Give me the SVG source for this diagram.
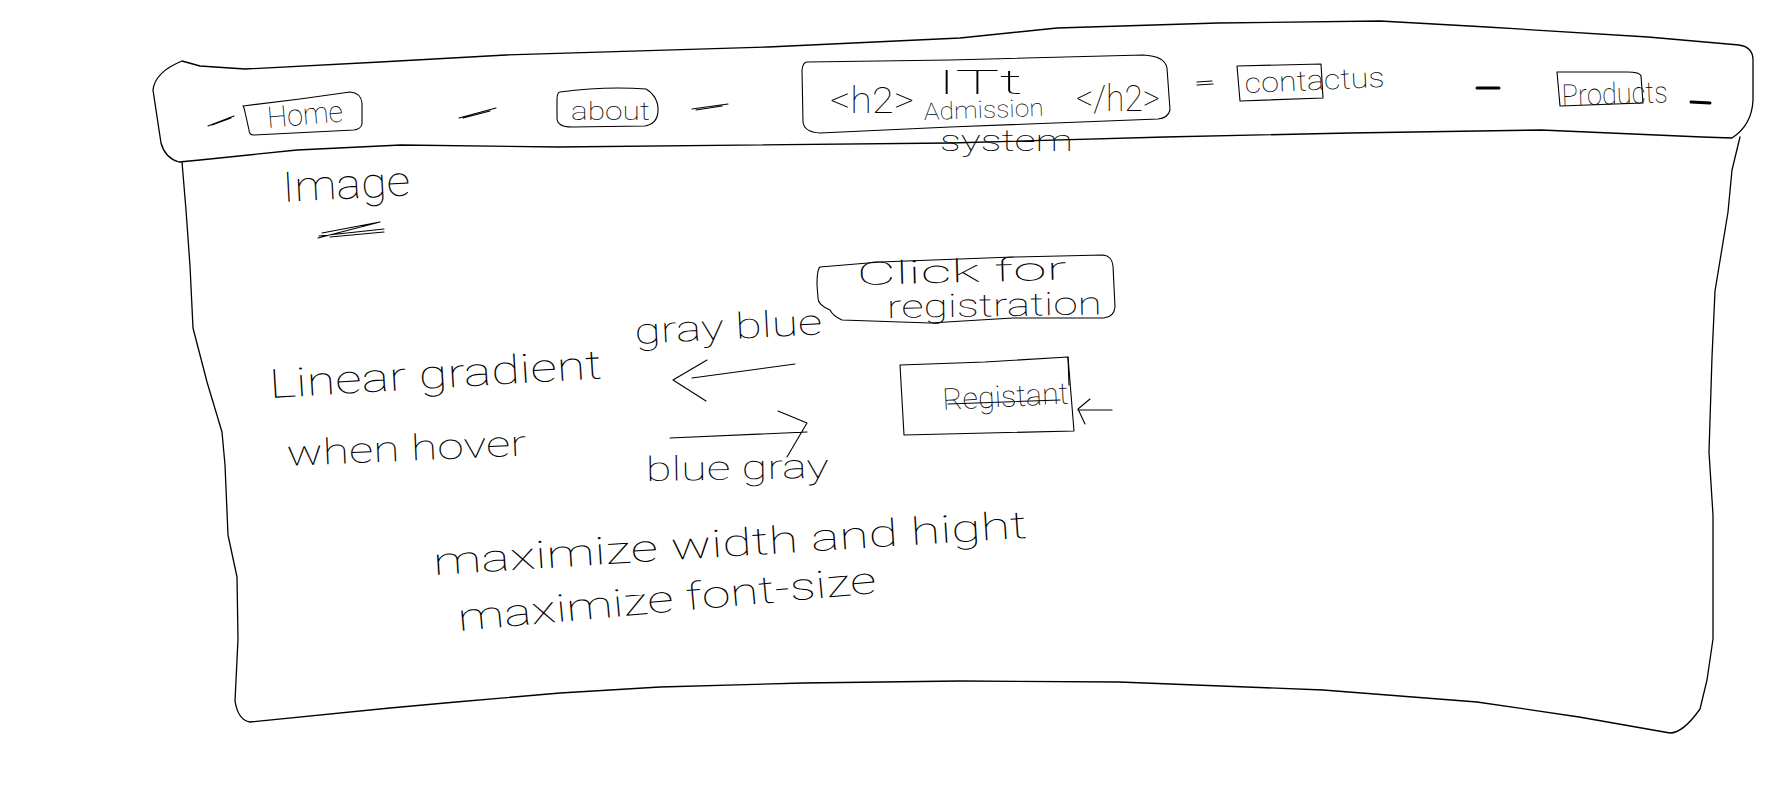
<svg xmlns="http://www.w3.org/2000/svg" width="1792" height="785" viewBox="0 0 1792 785">
  <style>
    .ink{fill:none;stroke:#000;stroke-width:1.3;stroke-linejoin:round;stroke-linecap:round}
    .pen{fill:none;stroke:#000;stroke-width:1.1;stroke-linejoin:round;stroke-linecap:round}
    .bold{fill:none;stroke:#000;stroke-width:3;stroke-linecap:round}
    .hw{font-family:Roboto,"Liberation Sans",sans-serif;font-weight:100;fill:#000}
  </style>
  <rect width="1792" height="785" fill="#fff"/>

  <!-- navigation bar -->
  <g id="nav-bar">
    <path class="ink" d="M182,61 L200,66 L245,69 L380,62 L506,55 L768,47 L960,38 L1057,28 L1218,23 L1380,21 L1487,27 L1648,37 L1739,45 Q1753,47 1753,60 L1753,100 Q1752,125 1732,138 L1702,137 L1541,130 L1350,133 L1165,137 L950,143 L558,147 L401,145 L297,150 L200,160 L179,162 Q165,158 161,143 L156,110 L153,90 Q155,72 182,61 Z"/>
  </g>

  <!-- page body -->
  <g id="page-body">
    <path class="ink" d="M182,162 L186,210 L190,266 L193,328 L207,382 L222,432 L225,465 L228,535 L237,577 L238,639 L235,701 Q238,720 250,722 L390,708 L456,702 L560,693 L660,687 L803,683 L960,681 L1119,682 L1323,690 L1477,702 L1579,717 L1670,733 Q1683,733 1700,709 L1707,680 L1713,639 L1713,515 L1709,452 L1712,357 L1715,291 L1728,212 L1732,170 L1740,137"/>
  </g>

  <g id="nav-home">
    <path class="pen" d="M243,106 L300,99 L350,92 Q361,93 362,103 L362,124 Q361,129 354,130 L254,135 Q249,135 249,130 L245,112 Q244,107 243,106 Z"/>
    <text class="hw" x="268" y="128" font-size="30" textLength="76" lengthAdjust="spacingAndGlyphs" transform="rotate(-5 268 128)">Home</text>
  </g>

  <g id="nav-about">
    <path class="pen" d="M560,92 Q605,86 646,89 Q659,97 658,112 Q657,124 645,126 L572,127 Q557,127 557,118 L557,100 Q557,92 560,92 Z"/>
    <text class="hw" x="571" y="120" font-size="26" textLength="79" lengthAdjust="spacingAndGlyphs">about</text>
  </g>

  <g id="nav-title">
    <path class="pen" d="M807,62 L950,60 L1143,55 Q1165,56 1167,68 L1170,110 Q1168,118 1158,119 L950,127 L820,133 Q804,132 803,122 L802,70 Q803,62 807,62 Z"/>
    <text class="hw" x="830" y="113" font-size="36" textLength="84" lengthAdjust="spacingAndGlyphs">&lt;h2&gt;</text>
    <text class="hw" x="937" y="94" font-size="34" textLength="86" lengthAdjust="spacingAndGlyphs">ITt</text>
    <text class="hw" x="924" y="120" font-size="24" textLength="120" lengthAdjust="spacingAndGlyphs" transform="rotate(-2 924 120)">Admission</text>
    <text class="hw" x="1076" y="111" font-size="36" textLength="84" lengthAdjust="spacingAndGlyphs">&lt;/h2&gt;</text>
    <text class="hw" x="940" y="151" font-size="30" textLength="133" lengthAdjust="spacingAndGlyphs">system</text>
  </g>

  <g id="nav-contact">
    <path class="pen" d="M1237,66 L1321,64 L1323,98 L1240,101 Z"/>
    <text class="hw" x="1245" y="93" font-size="28" textLength="140" lengthAdjust="spacingAndGlyphs" transform="rotate(-2.5 1245 93)">contactus</text>
  </g>

  <g id="nav-products">
    <path class="pen" d="M1557,72 L1627,72 Q1640,72 1641,76 L1643,103 L1560,106 Z"/>
    <text class="hw" x="1562" y="106" font-size="30" textLength="106" lengthAdjust="spacingAndGlyphs" transform="rotate(-2 1562 106)">Products</text>
  </g>

  <g id="image-label">
    <text class="hw" x="283" y="202" font-size="42" textLength="128" lengthAdjust="spacingAndGlyphs" transform="rotate(-3 283 202)">Image</text>
    <path class="pen" d="M318,238 L380,222 L322,233 M319,236 L384,229 M330,237 L384,232"/>
  </g>

  <g id="register-hint">
    <path class="pen" d="M820,267 L880,262 L1013,257 L1103,255 Q1112,256 1113,266 L1115,307 Q1114,317 1104,318 L1013,318 L930,323 L842,320 Q833,316 830,310 Q818,305 818,298 L817,285 Q817,269 820,267 Z"/>
    <text class="hw" x="857" y="285" font-size="32" textLength="210" lengthAdjust="spacingAndGlyphs" transform="rotate(-1.5 857 285)">Click for</text>
    <text class="hw" x="887" y="318" font-size="32" textLength="215" lengthAdjust="spacingAndGlyphs" transform="rotate(-1 887 318)">registration</text>
  </g>

  <g id="register-button">
    <path class="pen" d="M900,365 L985,362 L1068,357 L1074,431 L904,435 Z"/>
    <text class="hw" x="943" y="410" font-size="30" textLength="126" lengthAdjust="spacingAndGlyphs" transform="rotate(-3 943 410)">Registant</text>
    <path class="pen" d="M948,404 L1060,400 M1068,357 L1069,385"/>
  </g>

  <g id="notes">
    <text class="hw" x="270" y="398" font-size="40" textLength="333" lengthAdjust="spacingAndGlyphs" transform="rotate(-3.4 270 398)">Linear gradient</text>
    <text class="hw" x="287" y="466" font-size="36" textLength="240" lengthAdjust="spacingAndGlyphs" transform="rotate(-2.5 287 466)">when hover</text>
    <text class="hw" x="635" y="344" font-size="36" textLength="188" lengthAdjust="spacingAndGlyphs" transform="rotate(-3 635 344)">gray blue</text>
    <text class="hw" x="646" y="481" font-size="34" textLength="183" lengthAdjust="spacingAndGlyphs" transform="rotate(-1 646 481)">blue gray</text>
    <text class="hw" x="434" y="575" font-size="38" textLength="595" lengthAdjust="spacingAndGlyphs" transform="rotate(-3.6 434 575)">maximize width and hight</text>
    <text class="hw" x="459" y="631" font-size="38" textLength="420" lengthAdjust="spacingAndGlyphs" transform="rotate(-5.2 459 631)">maximize font-size</text>
  </g>

  <!-- connectors: separators between nav links and annotation arrows -->
  <g id="connectors">
    <path class="pen" d="M208,126 L234,116 M212,125 L231,118"/>
    <path class="pen" d="M459,118 L496,108 M463,118 L490,111"/>
    <path class="pen" d="M692,109 L728,104 M696,110 L722,106"/>
    <path class="pen" d="M1197,82 L1212,81 M1197,85 L1213,84"/>
    <path class="bold" d="M1477,88 L1499,88"/>
    <path class="bold" d="M1691,102 L1710,103"/>
    <path class="pen" d="M795,364 L692,378 M707,360 L673,380 L706,401"/>
    <path class="pen" d="M670,438 L807,432 M778,411 L807,423 L787,457"/>
    <path class="pen" d="M1112,410 L1078,410 M1090,399 L1078,409 L1085,424"/>
  </g>
</svg>
